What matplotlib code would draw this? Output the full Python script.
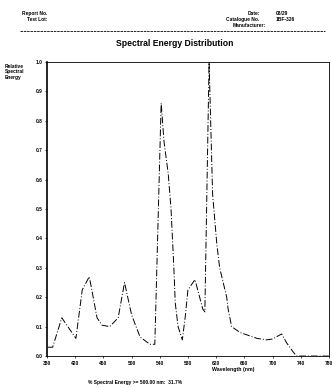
import matplotlib
matplotlib.use("Agg")
import matplotlib.pyplot as plt

plt.rcParams['font.family'] = ['Liberation Sans', 'DejaVu Sans']

# Spectrum (nm, relative energy)
wavelength = [381, 388, 401, 421, 430, 440, 451, 458, 469, 481, 490, 500, 512, 526,
              533, 542, 546, 552, 556, 558, 560, 562, 566, 572, 576, 580, 590, 601,
              604, 610, 615, 621, 625, 635, 637, 642, 654, 678, 692, 700, 713, 720,
              729, 734, 780]
energy = [0.03, 0.03, 0.13, 0.06, 0.225, 0.27, 0.13, 0.105, 0.10, 0.13, 0.25, 0.14, 0.065, 0.04,
          0.04, 0.86, 0.73, 0.62, 0.50, 0.40, 0.30, 0.18, 0.10, 0.055, 0.13, 0.225, 0.26, 0.16,
          0.15, 1.0, 0.55, 0.38, 0.30, 0.20, 0.16, 0.10, 0.08, 0.06, 0.055, 0.058, 0.075, 0.045,
          0.015, 0.0, 0.0]
x_ticks = [380, 420, 460, 500, 540, 580, 620, 660, 700, 740, 780]
y_ticks = [0.0, 0.1, 0.2, 0.3, 0.4, 0.5, 0.6, 0.7, 0.8, 0.9, 1.0]

fig = plt.figure(figsize=(3.32, 3.87), dpi=100)
ax = fig.add_axes([0.1416, 0.080, 0.849, 0.760])

ax.plot(wavelength, energy, color="black", lw=0.7, linestyle=(0, (7, 2, 1, 2)))

ax.set_xlim(380, 780)
ax.set_ylim(0, 1.0)
ax.set_xticks(x_ticks)
ax.set_yticks(y_ticks)
ax.set_xticklabels([str(t) for t in x_ticks], fontsize=3.5, fontweight="bold")
ax.set_yticklabels(["%.1f" % t for t in y_ticks], fontsize=3.5, fontweight="bold")
ax.tick_params(length=1.5, width=0.5, pad=2)
for side in ["top", "right", "bottom"]:
    ax.spines[side].set_linewidth(0.6)
ax.spines["left"].set_linewidth(1.2)
ax.set_xlabel("Wavelength (nm)", fontsize=3.8, fontweight="bold", va="top")
ax.xaxis.set_label_coords(0.66, -0.036)

# header
fig.text(0.066, 0.962, "Report No.", fontsize=3.5, fontweight="bold")
fig.text(0.080, 0.945, "Test Lot:", fontsize=3.5, fontweight="bold")
fig.text(0.745, 0.962, "Date:", fontsize=3.5, fontweight="bold")
fig.text(0.830, 0.962, "03/29", fontsize=3.5, fontweight="bold")
fig.text(0.680, 0.945, "Catalogue No.", fontsize=3.5, fontweight="bold")
fig.text(0.830, 0.945, "1BF-326", fontsize=3.5, fontweight="bold")
fig.text(0.700, 0.929, "Manufacturer:", fontsize=3.5, fontweight="bold")
fig.add_artist(plt.Line2D([0.06, 0.98], [0.920, 0.920], color="black", lw=0.6,
                          linestyle=(0, (3, 1))))

fig.text(0.527, 0.888, "Spectral Energy Distribution", fontsize=6.2, fontweight="bold",
         ha="center", va="center")
fig.text(0.015, 0.835, "Relative\nSpectral\nEnergy", fontsize=3.5, fontweight="bold",
         va="top", ha="left", linespacing=1.1)
fig.text(0.265, 0.008, "% Spectral Energy >= 500.00 nm:  31.7%", fontsize=3.5,
         fontweight="bold")

fig.savefig("out.png", dpi=100)
